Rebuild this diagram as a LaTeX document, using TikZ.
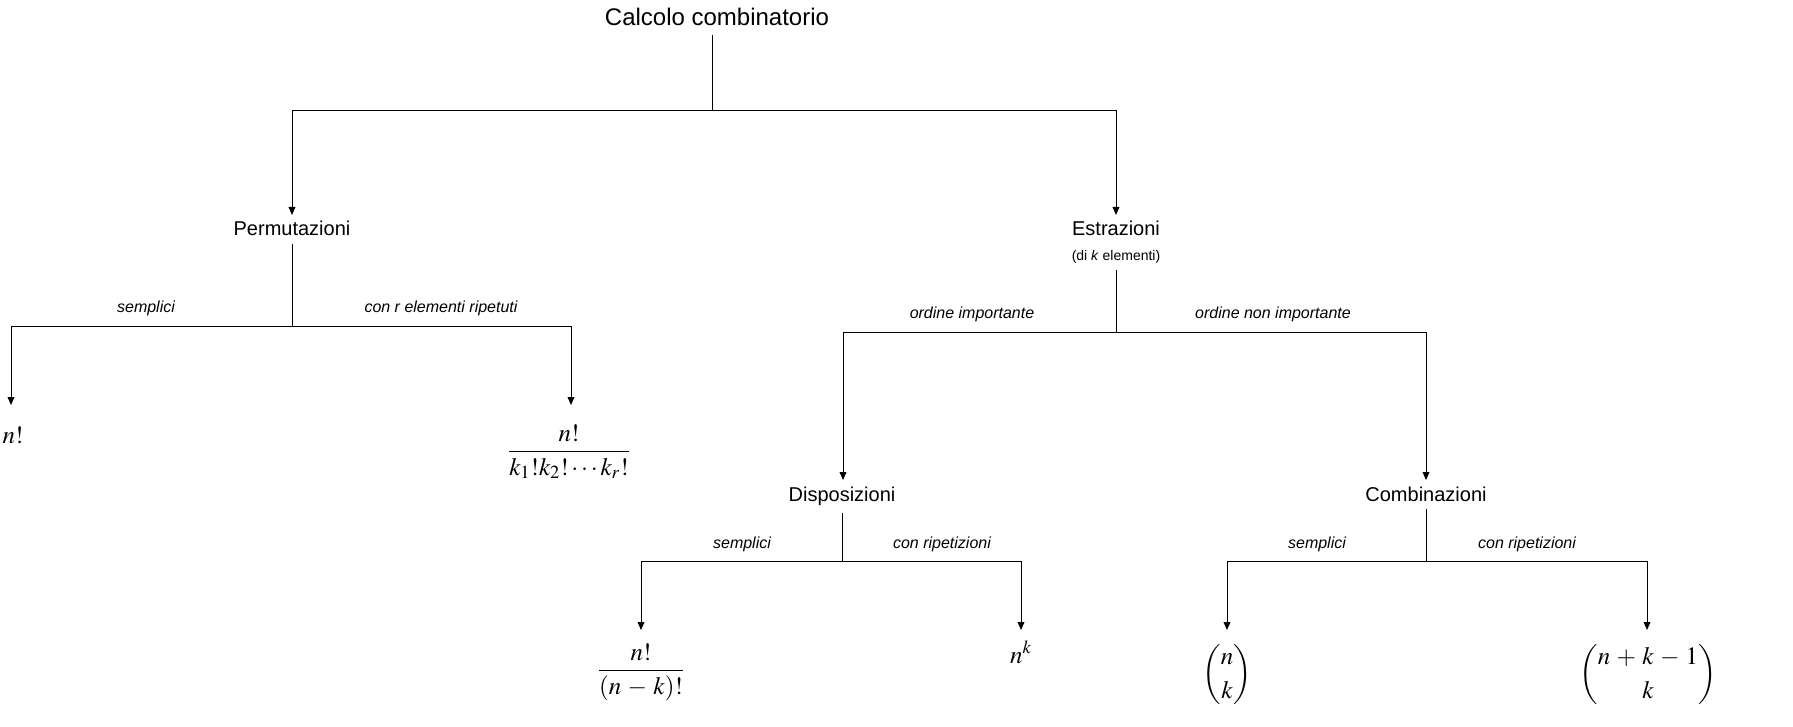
\documentclass[tikz,border=0pt]{standalone}
\usepackage{amsmath}
\usepackage{mathptmx}
\usepackage[no-math]{fontspec}
\newfontfamily\hv{Liberation Sans}
\usetikzlibrary{arrows.meta}
\newcommand\mywideops{\medmuskip=4.5mu plus 2mu minus 2mu\relax}
\begin{document}
\begin{tikzpicture}[x=0.5pt,y=-0.5pt,
  conn/.style={line width=0.5pt},
  arr/.style={conn,-{Triangle[length=4pt,width=3.4pt]}},
  cat/.style={font=\hv\fontsize{10}{12}\selectfont, inner sep=0pt, anchor=base},
  ttl/.style={font=\hv\fontsize{12}{14}\selectfont, inner sep=0pt, anchor=base},
  lbl/.style={font=\hv\itshape\fontsize{8}{10}\selectfont, inner sep=0pt, anchor=base},
  subl/.style={font=\hv\fontsize{7}{9}\selectfont, inner sep=0pt, anchor=base},
  res/.style={font=\fontsize{12.5}{15}\selectfont, inner sep=0pt, anchor=base}]
\useasboundingbox (0,0) rectangle (1793,727);
% category nodes
\node[ttl] (title) at (717,26) {Calcolo combinatorio};
\node[cat] (perm) at (292,235) {Permutazioni};
\node[cat] (estr) at (1116,235) {Estrazioni};
\node[subl] (estrsub) at (1116,261) {(di \textit{k} elementi)};
\node[cat] (disp) at (842,501) {Disposizioni};
\node[cat] (comb) at (1426,501) {Combinazioni};
% results
\node[res] (r1) at (13,443) {$n!$};
\node[res] (r2) at (569,458) {$\displaystyle\frac{n!}{k_1!k_2!\cdots k_r!}$};
\node[res] (r3) at (641,677) {$\displaystyle\mywideops\frac{n!}{(n-k)!}$};
\node[res] (r4) at (1021,663) {$n^k$};
\node[res] (r5) at (1227,681) {$\displaystyle\binom{n}{k}$};
\node[res] (r6) at (1648,681) {$\displaystyle\mywideops\binom{n+k-1}{k}$};
% labels
\node[lbl] (l1) at (146,313) {semplici};
\node[lbl] (l2) at (441,313) {con r elementi ripetuti};
\node[lbl] (l3) at (972,318) {ordine importante};
\node[lbl] (l4) at (1273,318) {ordine non importante};
\node[lbl] (l5) at (742,548) {semplici};
\node[lbl] (l6) at (942,548) {con ripetizioni};
\node[lbl] (l7) at (1317,548) {semplici};
\node[lbl] (l8) at (1527,548) {con ripetizioni};
% junctions
\coordinate (j0) at (712,111);
\coordinate (j1) at (292,326);
\coordinate (j2) at (1116,332);
\coordinate (j3) at (842,561);
\coordinate (j4) at (1426,561);
% arrow tips
\coordinate (t0a) at (292,215);
\coordinate (t0b) at (1116,215);
\coordinate (t1a) at (11,405);
\coordinate (t1b) at (571,405);
\coordinate (t2a) at (843,480);
\coordinate (t2b) at (1426,480);
\coordinate (t3a) at (641,630);
\coordinate (t3b) at (1021,630);
\coordinate (t4a) at (1227,630);
\coordinate (t4b) at (1647,630);
% connectors
\draw[conn] ([yshift=-4pt]title.south -| j0) -- (j0);
\draw[arr] (j0) -| (t0a);
\draw[arr] (j0) -| (t0b);
\draw[conn] ([yshift=-4pt]perm.south) -- (j1);
\draw[arr] (j1) -| (t1a);
\draw[arr] (j1) -| (t1b);
\draw[conn] ([yshift=-3pt]estrsub.south) -- (j2);
\draw[arr] (j2) -| (t2a);
\draw[arr] (j2) -| (t2b);
\draw[conn] ([yshift=-3.5pt]disp.south) -- (j3);
\draw[arr] (j3) -| (t3a);
\draw[arr] (j3) -| (t3b);
\draw[conn] ([yshift=-3.5pt]comb.south) -- (j4);
\draw[arr] (j4) -| (t4a);
\draw[arr] (j4) -| (t4b);
\end{tikzpicture}
\end{document}
